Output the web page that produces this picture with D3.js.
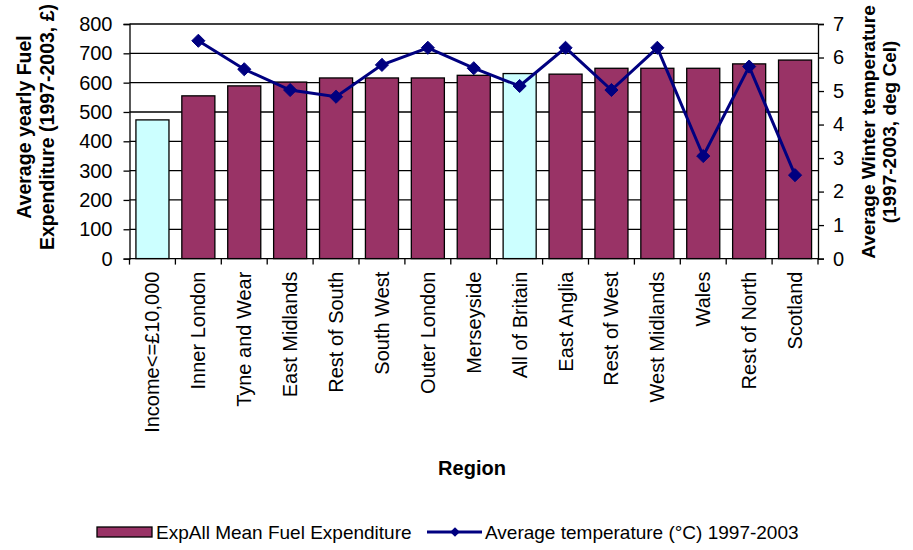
<!DOCTYPE html>
<html>
<head>
<meta charset="utf-8">
<script src="https://cdn.jsdelivr.net/npm/d3@7"></script>
<style>
  html, body { margin: 0; padding: 0; background: #fff; }
  svg { display: block; font-family: "Liberation Sans", Arial, sans-serif; }
</style>
</head>
<body>
<svg id="chart" width="913" height="550"></svg>
<script>
// Regions, in display order
const regions = [
  "Income<=£10,000", "Inner London", "Tyne and Wear", "East Midlands",
  "Rest of South", "South West", "Outer London", "Merseyside",
  "All of Britain", "East Anglia", "Rest of West", "West Midlands",
  "Wales", "Rest of North", "Scotland"
];
// ExpAll mean fuel expenditure (£ per year, 1997-2003)
const expenditure = [473, 555, 589, 602, 616, 616, 616, 625, 631, 629, 649, 649, 649, 664, 677];
// Average winter temperature (deg C, 1997-2003); no figure for the income group
const temperature = [null, 6.50, 5.65, 5.03, 4.83, 5.78, 6.29, 5.68, 5.15, 6.29, 5.03, 6.29, 3.06, 5.73, 2.49];
// Bars drawn in the light highlight colour
const highlighted = ["Income<=£10,000", "All of Britain"];
// Axis ticks
const leftTicks = [0, 100, 200, 300, 400, 500, 600, 700, 800];
const rightTicks = [0, 1, 2, 3, 4, 5, 6, 7];
// Series names for the legend
const barSeriesName = "ExpAll Mean Fuel Expenditure";
const lineSeriesName = "Average temperature (°C) 1997-2003";

const svg = d3.select("#chart");
const plot = { left: 129.5, right: 818, top: 24, bottom: 258.6 };

const x = d3.scaleBand().domain(regions).range([plot.left, plot.right]).paddingInner(0.28).paddingOuter(0.14);
const xTick = d3.scaleBand().domain(regions).range([plot.left, plot.right]);
const yL = d3.scaleLinear().domain([0, 800]).range([plot.bottom, plot.top]);
const yR = d3.scaleLinear().domain([0, 7]).range([plot.bottom, plot.top]);

const barColor = "#993366", hiColor = "#ccffff", lineColor = "#000080";

// Horizontal gridlines
svg.append("g").selectAll("line").data(leftTicks.filter(d => d > 0)).join("line")
  .attr("x1", plot.left).attr("x2", plot.right)
  .attr("y1", d => yL(d)).attr("y2", d => yL(d))
  .attr("stroke", "#000").attr("stroke-width", 1.3);

// Bars
svg.append("g").selectAll("rect").data(regions).join("rect")
  .attr("x", d => x(d))
  .attr("width", x.bandwidth())
  .attr("y", (d, i) => yL(expenditure[i]))
  .attr("height", (d, i) => plot.bottom - yL(expenditure[i]))
  .attr("fill", d => highlighted.includes(d) ? hiColor : barColor)
  .attr("stroke", "#000").attr("stroke-width", 1.3);

// Left axis
const axL = svg.append("g").attr("transform", `translate(${plot.left},0)`)
  .call(d3.axisLeft(yL).tickValues(leftTicks).tickSize(6).tickPadding(11));
// Right axis
const axR = svg.append("g").attr("transform", `translate(${plot.right},0)`)
  .call(d3.axisRight(yR).tickValues(rightTicks).tickSize(6).tickPadding(9).tickFormat(d3.format("d")));
[axL, axR].forEach(ax => {
  ax.select(".domain").attr("stroke", "#000").attr("stroke-width", 1.3);
  ax.selectAll(".tick line").attr("stroke", "#000").attr("stroke-width", 1.3);
  ax.selectAll(".tick text").attr("font-size", 20).attr("fill", "#000")
    .style("font-family", "'Liberation Sans', Arial, sans-serif");
});

// Bottom axis: baseline, ticks between categories, rotated labels
const axB = svg.append("g");
axB.append("line").attr("x1", plot.left).attr("x2", plot.right)
  .attr("y1", plot.bottom).attr("y2", plot.bottom)
  .attr("stroke", "#000").attr("stroke-width", 1.3);
axB.selectAll("line.tk").data(regions.concat(["end"])).join("line").attr("class", "tk")
  .attr("x1", (d, i) => plot.left + i * xTick.bandwidth())
  .attr("x2", (d, i) => plot.left + i * xTick.bandwidth())
  .attr("y1", plot.bottom).attr("y2", plot.bottom + 6)
  .attr("stroke", "#000").attr("stroke-width", 1.3);
axB.selectAll("text").data(regions).join("text")
  .attr("transform", d => `translate(${xTick(d) + xTick.bandwidth() / 2 + 7},${plot.bottom + 13}) rotate(-90)`)
  .attr("text-anchor", "end")
  .attr("font-size", 20)
  .text(d => d);

// Temperature line with diamond markers
const pts = regions.map((r, i) => ({ r, v: temperature[i] })).filter(d => d.v !== null);
const line = d3.line().x(d => x(d.r) + x.bandwidth() / 2).y(d => yR(d.v));
svg.append("path").datum(pts).attr("d", line)
  .attr("fill", "none").attr("stroke", lineColor).attr("stroke-width", 3);
svg.append("g").selectAll("path").data(pts).join("path")
  .attr("transform", d => `translate(${x(d.r) + x.bandwidth() / 2},${yR(d.v)})`)
  .attr("d", d3.symbol(d3.symbolDiamond2, 110))
  .attr("fill", lineColor).attr("stroke", lineColor).attr("stroke-width", 1);

// Axis titles
const leftTitle = svg.append("text").attr("font-weight", "bold").attr("font-size", 19.5)
  .attr("text-anchor", "middle").attr("transform", "translate(42,127) rotate(-90)");
leftTitle.append("tspan").attr("x", 0).attr("dy", "-0.55em").text("Average yearly Fuel");
leftTitle.append("tspan").attr("x", 0).attr("dy", "1.15em").text("Expenditure (1997-2003, £)");

const rightTitle = svg.append("text").attr("font-weight", "bold").attr("font-size", 19)
  .attr("text-anchor", "middle").attr("transform", "translate(871,132) rotate(-90)");
rightTitle.append("tspan").attr("x", 0).attr("dy", "0.2em").text("Average Winter temperature");
rightTitle.append("tspan").attr("x", 0).attr("dy", "1.1em").text("(1997-2003, deg Cel)");

svg.append("text").attr("x", 472).attr("y", 475).attr("text-anchor", "middle")
  .attr("font-weight", "bold").attr("font-size", 20).text("Region");

// Legend
const lg = svg.append("g").attr("transform", "translate(0,532)");
lg.append("rect").attr("x", 97).attr("y", -5).attr("width", 55).attr("height", 10)
  .attr("fill", barColor).attr("stroke", "#000").attr("stroke-width", 1.3);
lg.append("text").attr("x", 156).attr("y", 7).attr("font-size", 19).text(barSeriesName);
lg.append("line").attr("x1", 427).attr("x2", 482).attr("y1", 0).attr("y2", 0)
  .attr("stroke", lineColor).attr("stroke-width", 3);
lg.append("path").attr("transform", "translate(455,0)")
  .attr("d", d3.symbol(d3.symbolDiamond2, 60)).attr("fill", lineColor);
lg.append("text").attr("x", 485).attr("y", 7).attr("font-size", 19).text(lineSeriesName);
</script>
</body>
</html>
